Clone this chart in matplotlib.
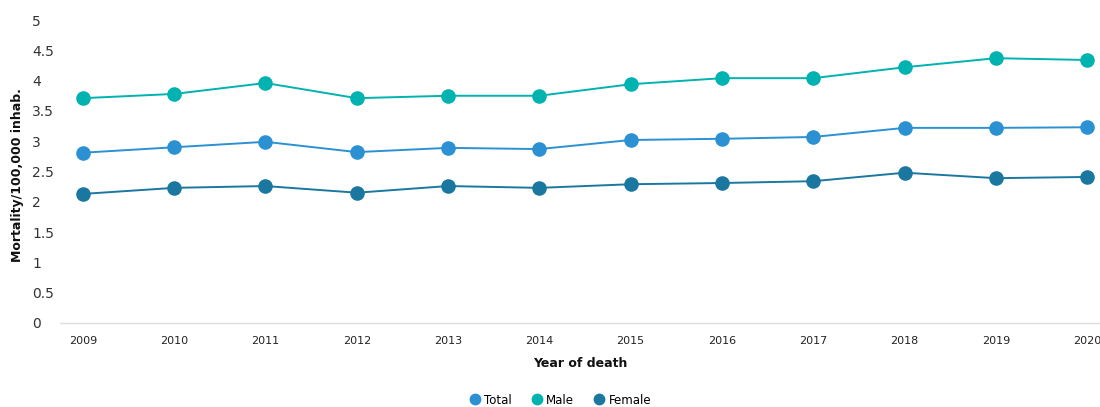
import matplotlib
matplotlib.use("Agg")
import matplotlib.pyplot as plt
from matplotlib.lines import Line2D

years = [2009, 2010, 2011, 2012, 2013, 2014, 2015, 2016, 2017, 2018, 2019, 2020]
total = [2.81, 2.90, 2.99, 2.82, 2.89, 2.87, 3.02, 3.04, 3.07, 3.22, 3.22, 3.23]
male = [3.71, 3.78, 3.96, 3.71, 3.75, 3.75, 3.94, 4.04, 4.04, 4.22, 4.37, 4.34]
female = [2.13, 2.23, 2.26, 2.15, 2.26, 2.23, 2.29, 2.31, 2.34, 2.48, 2.39, 2.41]
y_ticks = [0, 0.5, 1, 1.5, 2, 2.5, 3, 3.5, 4, 4.5, 5]
y_tick_labels = ["0", "0.5", "1", "1.5", "2", "2.5", "3", "3.5", "4", "4.5", "5"]

series = [
    ("Total", total, "#2b91d3"),
    ("Male", male, "#00b2b0"),
    ("Female", female, "#1a78a0"),
]

plt.rcParams["font.family"] = ["DejaVu Sans"]

fig = plt.figure(figsize=(11, 4.07), dpi=100)
ax = fig.add_axes([60 / 1100, 84 / 407, 1040 / 1100, 303 / 407])

for name, vals, col in series:
    ax.plot(years, vals, color=col, linewidth=1.4, marker="o", markersize=10.5,
            markeredgewidth=0, label=name, zorder=3)

ax.set_xlim(2008.75, 2020.14)
ax.set_ylim(0, 5)
ax.set_xticks(years)
ax.set_xticklabels([str(y) for y in years], fontsize=8, color="#222222")
ax.set_yticks(y_ticks)
ax.set_yticklabels(y_tick_labels, fontsize=10, color="#333333")
for lbl in ax.get_yticklabels():
    lbl.set_horizontalalignment("left")
ax.tick_params(axis="y", length=0, pad=20)
ax.tick_params(axis="x", length=0, pad=9)

for s in ["top", "right", "left"]:
    ax.spines[s].set_visible(False)
ax.spines["bottom"].set_color("#dddddd")
ax.spines["bottom"].set_linewidth(1)

ax.set_xlabel("Year of death", fontsize=9, fontweight="bold", color="#111111", labelpad=8)
fig.text(18 / 1100, 1 - 175 / 407, "Mortality/100,000 inhab.", rotation=90,
         fontsize=9, fontweight="bold", color="#111111", ha="center", va="center")

handles = [Line2D([], [], linestyle="none", marker="o", markersize=8.5,
                  markerfacecolor=c, markeredgewidth=0, label=n) for n, _, c in series]
fig.legend(handles=handles, loc="center", bbox_to_anchor=(560 / 1100, 1 - 400 / 407),
           ncol=3, frameon=False, fontsize=8.5, handletextpad=0.3, columnspacing=1.6,
           handlelength=1.0)

fig.savefig("out.png", dpi=100)
